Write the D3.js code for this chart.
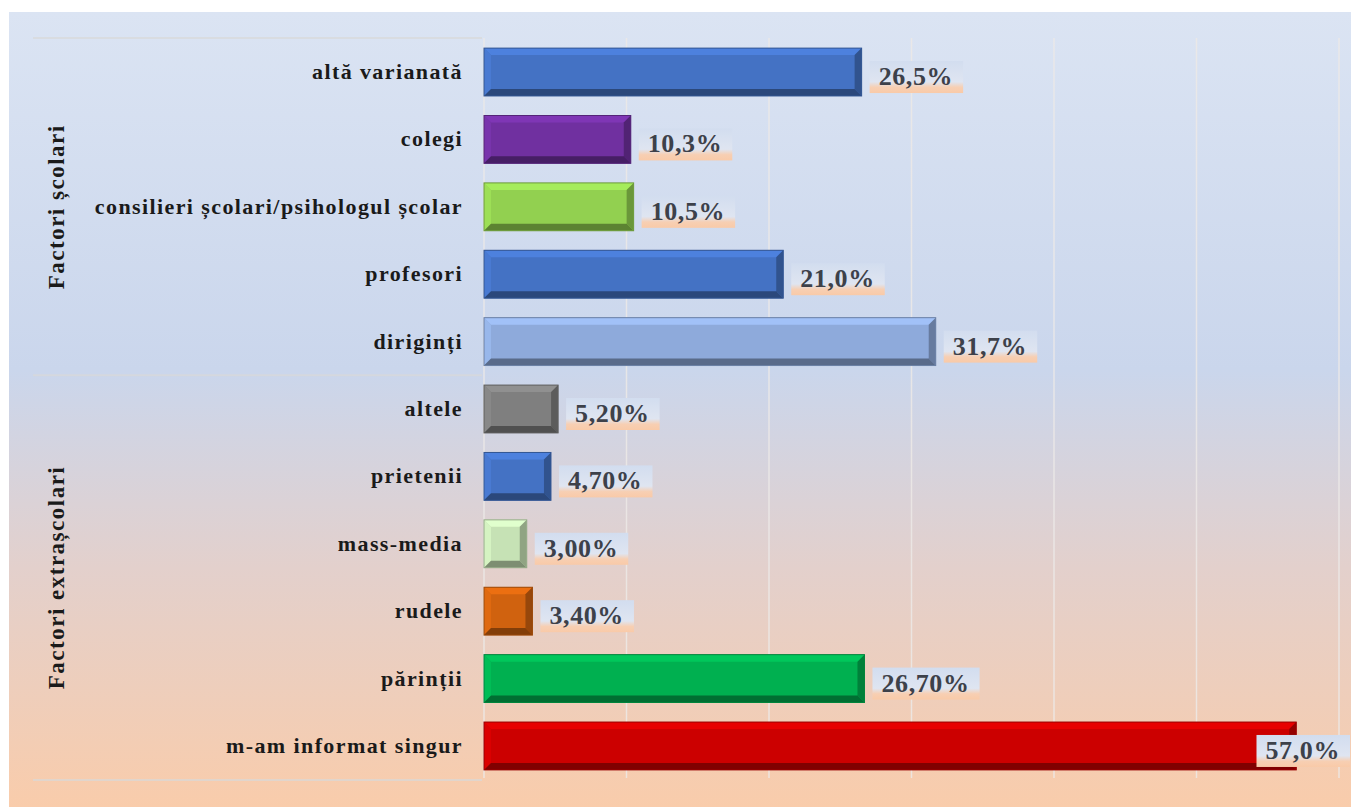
<!DOCTYPE html>
<html>
<head>
<meta charset="utf-8">
<script src="https://cdn.jsdelivr.net/npm/d3@7"></script>
<style>
  body { margin: 0; background: #fff; }
  svg { display: block; }
  .cat { font-family: "Liberation Serif", "DejaVu Serif", serif; font-weight: bold; font-size: 22px; letter-spacing: 1.4px; fill: #1a1a1a; }
  .grp { font-family: "Liberation Serif", "DejaVu Serif", serif; font-weight: bold; font-size: 23px; letter-spacing: 1.5px; fill: #1a1a1a; }
  .val { font-family: "Liberation Serif", "DejaVu Serif", serif; font-weight: bold; font-size: 26px; letter-spacing: 0.6px; fill: #3d414a; }
</style>
</head>
<body>
<svg></svg>
<script>
const WIDTH = 1351, HEIGHT = 807

const categories = ['altă varianată', 'colegi', 'consilieri școlari/psihologul școlar', 'profesori', 'diriginți',
  'altele', 'prietenii', 'mass-media', 'rudele', 'părinții', 'm-am informat singur']
const values = [26.5, 10.3, 10.5, 21.0, 31.7, 5.2, 4.7, 3.0, 3.4, 26.7, 57.0]
const valueLabels = ['26,5%', '10,3%', '10,5%', '21,0%', '31,7%', '5,20%', '4,70%', '3,00%', '3,40%', '26,70%', '57,0%']
const groups = ['Factori școlari', 'Factori extrașcolari']
const groupOf = [0, 0, 0, 0, 0, 1, 1, 1, 1, 1, 1]
const barColors = ['#4472c4', '#7030a0', '#92d050', '#4472c4', '#8eaadb', '#7f7f7f', '#4472c4', '#c6e2b5', '#d0620f', '#00b050', '#cc0000']
const gridTicks = [0, 10, 20, 30, 40, 50, 60]

const M = { left: 484, right: 1339, top: 38, bottom: 780, groupLeft: 33 }

const svg = d3.select('svg').attr('width', WIDTH).attr('height', HEIGHT)
const defs = svg.append('defs')

const bg = defs.append('linearGradient').attr('id', 'bg').attr('x1', 0).attr('y1', 0).attr('x2', 0).attr('y2', 1)
bg.append('stop').attr('offset', '0%').attr('stop-color', '#dbe4f3')
bg.append('stop').attr('offset', '45%').attr('stop-color', '#cad6ec')
bg.append('stop').attr('offset', '70%').attr('stop-color', '#e3d0cc')
bg.append('stop').attr('offset', '100%').attr('stop-color', '#f9ccab')

const lab = defs.append('linearGradient').attr('id', 'lab').attr('x1', 0).attr('y1', 0).attr('x2', 0).attr('y2', 1)
lab.append('stop').attr('offset', '0%').attr('stop-color', '#d2ddef')
lab.append('stop').attr('offset', '65%').attr('stop-color', '#dfe5f1')
lab.append('stop').attr('offset', '82%').attr('stop-color', '#f7cfb3')
lab.append('stop').attr('offset', '100%').attr('stop-color', '#f9caa8')

svg.append('rect').attr('x', 9).attr('y', 12).attr('width', WIDTH - 9).attr('height', HEIGHT - 12).attr('fill', 'url(#bg)')

const x = d3.scaleLinear().domain([0, 60]).range([M.left, M.right])
const y = d3.scaleBand().domain(categories).range([M.top, M.bottom]).paddingInner(0.29).paddingOuter(0.15)

// gridlines
svg.append('g').selectAll('line').data(gridTicks).join('line')
  .attr('x1', d => x(d)).attr('x2', d => x(d))
  .attr('y1', M.top).attr('y2', M.bottom - 2)
  .attr('stroke', '#ece9e6').attr('stroke-opacity', 0.85).attr('stroke-width', 1.5)

// group separators
const half = y.step() * y.paddingInner() / 2
const groupBounds = groups.map((g, gi) => {
  const idx = categories.map((c, i) => i).filter(i => groupOf[i] === gi)
  const top = y(categories[idx[0]]) - half
  const bottom = y(categories[idx[idx.length - 1]]) + y.bandwidth() + half
  return { g, top, bottom }
})
const sepYs = [M.top, groupBounds[0].bottom, M.bottom]
svg.append('g').selectAll('line').data(sepYs).join('line')
  .attr('x1', M.groupLeft).attr('x2', M.left - 2)
  .attr('y1', d => d).attr('y2', d => d)
  .attr('stroke', '#d8d8d8').attr('stroke-opacity', 0.7).attr('stroke-width', 2)

svg.append('g').selectAll('text').data(groupBounds).join('text')
  .attr('class', 'grp')
  .attr('text-anchor', 'middle')
  .attr('transform', d => `translate(64, ${(d.top + d.bottom) / 2}) rotate(-90)`)
  .text(d => d.g)

// category labels
svg.append('g').selectAll('text').data(categories).join('text')
  .attr('class', 'cat')
  .attr('text-anchor', 'end')
  .attr('x', M.left - 21)
  .attr('y', d => y(d) + y.bandwidth() / 2 + 7)
  .text(d => d)

// bevelled bars
const B = 7
const bars = svg.append('g').selectAll('g').data(values).join('g')
bars.each(function(v, i) {
  const g = d3.select(this)
  const x0 = x(0), x1 = x(v), y0 = y(categories[i]), y1 = y0 + y.bandwidth()
  const c = d3.color(barColors[i])
  g.append('rect').attr('x', x0).attr('y', y0).attr('width', x1 - x0).attr('height', y1 - y0).attr('fill', c)
  const poly = (pts, fill) => g.append('polygon').attr('points', pts.map(p => p.join(',')).join(' ')).attr('fill', fill)
  poly([[x0, y0], [x1, y0], [x1 - B, y0 + B], [x0 + B, y0 + B]], c.brighter(0.35))
  poly([[x0, y0], [x0 + B, y0 + B], [x0 + B, y1 - B], [x0, y1]], c.brighter(0.2))
  poly([[x1, y0], [x1, y1], [x1 - B, y1 - B], [x1 - B, y0 + B]], c.darker(0.9))
  poly([[x0, y1], [x0 + B, y1 - B], [x1 - B, y1 - B], [x1, y1]], c.darker(1.3))
  g.append('rect').attr('x', x0).attr('y', y0).attr('width', x1 - x0).attr('height', y1 - y0)
    .attr('fill', 'none').attr('stroke', c.darker(0.8)).attr('stroke-width', 1)
})

// value labels
const vl = svg.append('g').selectAll('g').data(values).join('g')
vl.each(function(v, i) {
  const g = d3.select(this)
  const cy = y(categories[i]) + y.bandwidth() / 2
  const t = g.append('text').attr('class', 'val').attr('y', cy + 13).text(valueLabels[i])
  const w = t.node().getComputedTextLength()
  let bx = x(v) + 8
  const bw = w + 19
  if (bx + bw > WIDTH - 1) bx = WIDTH - 1 - bw
  t.attr('x', bx + 9)
  g.insert('rect', 'text').attr('x', bx).attr('y', cy - 11).attr('width', bw).attr('height', 32).attr('fill', 'url(#lab)')
})
</script>
</body>
</html>
